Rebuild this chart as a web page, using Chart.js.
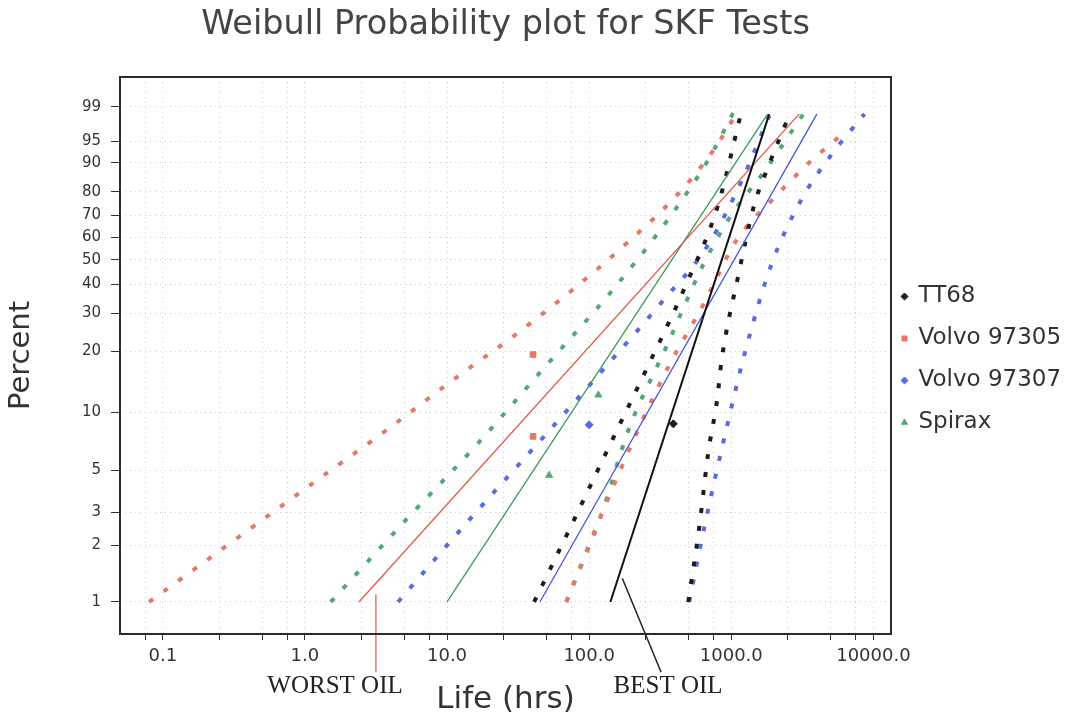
<!DOCTYPE html>
<html>
<head>
<meta charset="utf-8">
<title>Weibull Probability plot for SKF Tests</title>
<script src="https://cdn.jsdelivr.net/npm/chart.js@4.4.1/dist/chart.umd.min.js"></script>
<style>
  html, body { margin: 0; padding: 0; background: #fff; }
  #wrap { width: 1074px; height: 719px; }
</style>
</head>
<body>
<div id="wrap"><canvas id="weibullChart"></canvas></div>
<script>
// axis ticks
const yTickPercents = [1, 2, 3, 5, 10, 20, 30, 40, 50, 60, 70, 80, 90, 95, 99];
const xTickValues = [0.1, 1, 10, 100, 1000, 10000];
const xTickLabels = ['0.1', '1.0', '10.0', '100.0', '1000.0', '10000.0'];
const xGridValues = [0.075, 0.1, 0.25, 0.5, 0.75, 1, 2.5, 5, 7.5, 10, 25, 50, 75, 100,
  250, 500, 750, 1000, 2500, 5000, 7500, 10000];
const xRange = [0.05, 13300];
const yRangePercent = [0.674, 99.87];

// test points, [life hrs, percent]
const tt68Points = [[391, 8.7]];
const volvo97305Points = [[40.3, 7.5], [40.3, 19.3]];
const volvo97307Points = [[100, 8.6]];
const spiraxPoints = [[52.3, 4.7], [116, 12.2]];

// fitted lines
const tt68Fit = [[141, 1], [1850, 98.5]];
const volvo97305Fit = [[2.4, 1], [3000, 98.5]];
const volvo97307Fit = [[45, 1], [4000, 98.5]];
const spiraxFit = [[10, 1], [1800, 98.5]];

// confidence bounds
const tt68Lower = [[41, 1], [70, 2.3], [132, 6.2], [252, 16.3], [467, 38.4], [809, 74.6], [1156, 98.3]];
const tt68Upper = [[498, 1], [595, 2.5], [689, 6.2], [797, 11.7], [850, 17.6], [1120, 43.4],
  [1452, 74.6], [1763, 87.3], [2478, 98]];
const volvo97305Lower = [[0.08, 1], [0.337, 2.2], [1.1, 4.2], [3.6, 7.9], [11.6, 14.9], [29.6, 23.7],
  [73.5, 37.3], [182, 57], [424, 79.2], [735, 92.8], [1084, 98.5]];
const volvo97305Upper = [[69, 1], [121.5, 2.9], [221, 8.1], [360, 16.8], [646, 33.4], [1084, 58.4],
  [2009, 77.5], [3597, 90.3], [5675, 95.7]];
const volvo97307Lower = [[4.52, 1], [14.1, 2.7], [47.4, 7.4], [121.5, 15.9], [321, 33.4], [689, 56.6],
  [1175, 83.8], [1853, 98.4]];
const volvo97307Upper = [[506, 1], [646, 2.5], [952, 9], [1256, 20.1], [1914, 47.9], [3113, 76.7],
  [5060, 92.1], [8650, 98.5]];
const spiraxLower = [[1.52, 1], [5.06, 2.7], [16.8, 7], [44.4, 15.6], [143, 37.3], [349, 67],
  [689, 90.8], [1033, 98.6]];
const spiraxUpper = [[69, 1], [121.5, 2.9], [188, 8], [349, 21], [635, 47.9], [1000, 70],
  [1707, 87.3], [3213, 98.5]];

// pointer lines and notes under the axis
const worstOilLine = [[3.16, 1.1], [3.16, 0.42]];
const bestOilLine = [[171, 1.34], [321, 0.42]];
const notes = [
  { text: 'WORST OIL', x: 1.63, p: 0.351 },
  { text: 'BEST OIL', x: 359, p: 0.351 }
];

const colors = {
  tt68: '#1c1c1c',
  volvo97305: '#e57868',
  volvo97307: '#5b69e3',
  spirax: '#54a874'
};

const sans = '"DejaVu Sans", Verdana, sans-serif';

function weibull(p) {
  return Math.log(-Math.log(1 - p / 100));
}

function toXY(pairs) {
  return pairs.map(([x, p]) => ({ x: x, y: weibull(p) }));
}

function pointSet(label, pairs, color, style) {
  return {
    label: label, data: toXY(pairs), showLine: false,
    pointStyle: style, pointRadius: 4, pointHoverRadius: 4,
    backgroundColor: color, borderColor: color, borderWidth: 1
  };
}

function lineSet(label, pairs, color, width) {
  return {
    label: label, data: toXY(pairs), showLine: true, pointRadius: 0,
    borderColor: color, borderWidth: width, fill: false
  };
}

function boundSet(label, pairs, color) {
  return {
    label: label, data: toXY(pairs), showLine: true, pointRadius: 0,
    borderColor: color, borderWidth: 4, borderDash: [5, 13], borderCapStyle: 'butt',
    cubicInterpolationMode: 'monotone', fill: false
  };
}

const legendNames = ['TT68', 'Volvo 97305', 'Volvo 97307', 'Spirax'];

const datasets = [
  pointSet('TT68', tt68Points, colors.tt68, 'rectRot'),
  pointSet('Volvo 97305', volvo97305Points, colors.volvo97305, 'rect'),
  pointSet('Volvo 97307', volvo97307Points, colors.volvo97307, 'rectRot'),
  pointSet('Spirax', spiraxPoints, colors.spirax, 'triangle'),
  lineSet('TT68 fit', tt68Fit, '#111', 2),
  lineSet('Volvo 97305 fit', volvo97305Fit, '#e05a48', 1.3),
  lineSet('Volvo 97307 fit', volvo97307Fit, '#4556e0', 1.3),
  lineSet('Spirax fit', spiraxFit, '#3b9a5c', 1.3),
  boundSet('TT68 lower', tt68Lower, colors.tt68),
  boundSet('TT68 upper', tt68Upper, colors.tt68),
  boundSet('Volvo 97305 lower', volvo97305Lower, colors.volvo97305),
  boundSet('Volvo 97305 upper', volvo97305Upper, colors.volvo97305),
  boundSet('Volvo 97307 lower', volvo97307Lower, colors.volvo97307),
  boundSet('Volvo 97307 upper', volvo97307Upper, colors.volvo97307),
  boundSet('Spirax lower', spiraxLower, colors.spirax),
  boundSet('Spirax upper', spiraxUpper, colors.spirax),
  Object.assign(lineSet('worst oil', worstOilLine, '#e05a48', 1.2), { clip: false }),
  Object.assign(lineSet('best oil', bestOilLine, '#222', 1.5), { clip: false })
];

const plotFrame = {
  id: 'plotFrame',
  afterLayout(chart) {
    // pull legend a bit closer to the plot
    chart.legend.left -= 8;
    chart.legend.right -= 8;
  },
  afterDraw(chart) {
    const { ctx, chartArea: a, scales } = chart;
    ctx.save();
    ctx.strokeStyle = '#2b2b2b';
    ctx.lineWidth = 2;
    ctx.strokeRect(a.left, a.top, a.right - a.left, a.bottom - a.top);
    ctx.fillStyle = '#222';
    ctx.font = '25px "Liberation Serif", serif';
    ctx.textAlign = 'center';
    ctx.textBaseline = 'middle';
    notes.forEach(n => {
      ctx.fillText(n.text, scales.x.getPixelForValue(n.x), scales.y.getPixelForValue(weibull(n.p)));
    });
    ctx.restore();
  }
};

new Chart(document.getElementById('weibullChart'), {
  type: 'scatter',
  data: { datasets: datasets },
  options: {
    responsive: true,
    maintainAspectRatio: false,
    animation: false,
    layout: { padding: { left: 0, right: 0, top: 0, bottom: 0 } },
    plugins: {
      title: {
        display: true,
        fullSize: false,
        text: 'Weibull Probability plot for SKF Tests',
        color: '#444',
        font: { size: 33.5, family: sans, weight: 'normal' },
        padding: { top: 5, bottom: 31.8 }
      },
      legend: {
        position: 'right',
        maxWidth: 183,
        labels: {
          usePointStyle: true,
          boxWidth: 5,
          boxHeight: 5,
          padding: 19,
          color: '#333',
          font: { size: 23, family: sans },
          filter: (item) => legendNames.includes(item.text)
        }
      },
      tooltip: { enabled: false }
    },
    scales: {
      x: {
        type: 'logarithmic',
        min: xRange[0],
        max: xRange[1],
        afterBuildTicks: (scale) => {
          scale.ticks = xGridValues.map(v => ({ value: v }));
        },
        afterFit: (scale) => { scale.height = 85; },
        ticks: {
          autoSkip: false,
          maxRotation: 0,
          padding: 6,
          color: '#333',
          font: { size: 18, family: sans },
          callback: (value) => {
            const i = xTickValues.indexOf(value);
            return i >= 0 ? xTickLabels[i] : '';
          }
        },
        grid: { color: '#cfcfcf', lineWidth: 1, tickLength: 6, tickColor: '#333' },
        border: { display: false, dash: [1, 4] },
        title: {
          display: true,
          text: 'Life (hrs)',
          color: '#333',
          font: { size: 31, family: sans },
          padding: { top: 0, bottom: 0 }
        }
      },
      y: {
        type: 'linear',
        min: weibull(yRangePercent[0]),
        max: weibull(yRangePercent[1]),
        afterBuildTicks: (scale) => {
          scale.ticks = yTickPercents.map(p => ({ value: weibull(p) }));
        },
        afterFit: (scale) => { scale.width = 120; },
        ticks: {
          autoSkip: false,
          padding: 10,
          color: '#333',
          font: { size: 15, family: sans },
          callback: (value, index) => String(yTickPercents[index])
        },
        grid: { color: '#cfcfcf', lineWidth: 1, tickLength: 9, tickColor: '#333' },
        border: { display: false, dash: [1, 4] },
        title: {
          display: true,
          text: 'Percent',
          color: '#333',
          font: { size: 29, family: sans },
          padding: { top: 4, bottom: 0 }
        }
      }
    }
  },
  plugins: [plotFrame]
});
</script>
</body>
</html>
